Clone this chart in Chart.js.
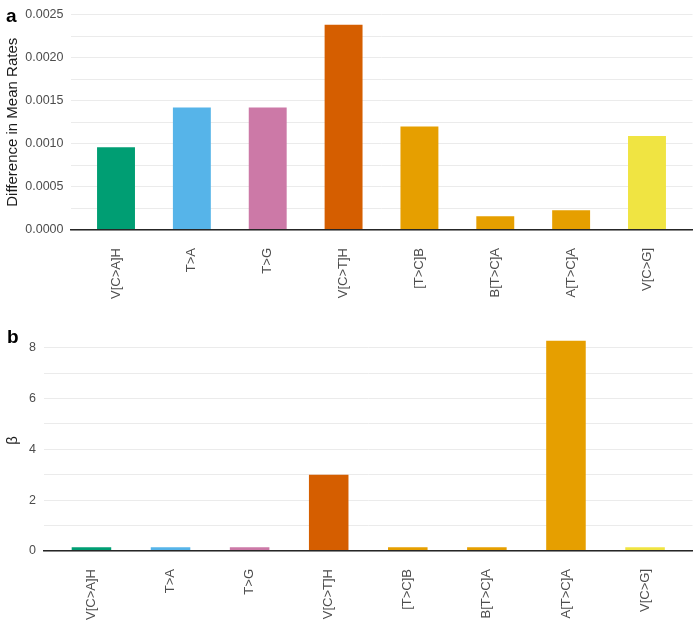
<!DOCTYPE html>
<html>
<head>
<meta charset="utf-8">
<script src="https://cdn.jsdelivr.net/npm/chart.js@4.4.1/dist/chart.umd.min.js"></script>
<style>
  html, body { margin: 0; padding: 0; background: #fff; }
  #wrap { position: relative; width: 700px; height: 623px; }
  canvas { position: absolute; left: 0; }
  #chartA { top: 0; }
  #chartB { top: 311px; }
</style>
</head>
<body>
<div id="wrap">
  <canvas id="chartA" width="700" height="312"></canvas>
  <canvas id="chartB" width="700" height="312"></canvas>
</div>
<script>
const categories = ['V[C>A]H', 'T>A', 'T>G', 'V[C>T]H', '[T>C]B', 'B[T>C]A', 'A[T>C]A', 'V[C>G]'];
const rateDiff = [0.00096, 0.00142, 0.00142, 0.00238, 0.00120, 0.00016, 0.00023, 0.00109];
const betaValues = [0.15, 0.15, 0.15, 3.0, 0.15, 0.15, 8.28, 0.15];
const rateTicks = [0, 0.0005, 0.001, 0.0015, 0.002, 0.0025];
const rateTickLabels = ['0.0000', '0.0005', '0.0010', '0.0015', '0.0020', '0.0025'];
const betaTicks = [0, 2, 4, 6, 8];
const betaTickLabels = ['0', '2', '4', '6', '8'];
const barColors = ['#009E73', '#56B4E9', '#CC79A7', '#D55E00', '#E69F00', '#E69F00', '#E69F00', '#F0E442'];

Chart.defaults.font.family = '"Liberation Sans", Arial, sans-serif';

// draws the bold panel letter in the corner
const panelTag = {
    id: 'panelTag',
    afterDraw(chart, args, o) {
        const c = chart.ctx;
        c.save();
        c.font = 'bold 19px "Liberation Sans", Arial, sans-serif';
        c.fillStyle = '#000';
        c.textBaseline = 'alphabetic';
        c.fillText(o.text, o.x, o.y);
        c.restore();
    }
};

function makeChart(id, cfg) {
    const ctx = document.getElementById(id).getContext('2d');

    // major ticks plus a minor gridline half way between each pair
    const gridVals = [];
    cfg.ticks.forEach((v, i) => {
        gridVals.push(v);
        if (i < cfg.ticks.length - 1) gridVals.push((v + cfg.ticks[i + 1]) / 2);
    });

    return new Chart(ctx, {
        type: 'bar',
        data: {
            datasets: [{
                data: cfg.values.map((v, i) => ({ x: i + 1, y: v })),
                backgroundColor: barColors,
                borderWidth: 0,
                barPercentage: 0.5,
                categoryPercentage: 1
            }]
        },
        plugins: [panelTag],
        options: {
            responsive: false,
            animation: false,
            layout: { padding: { top: cfg.top, right: 7.5, left: 0, bottom: 0 } },
            plugins: {
                legend: { display: false },
                tooltip: { enabled: false },
                panelTag: cfg.tag
            },
            scales: {
                x: {
                    type: 'linear',
                    offset: false,
                    min: 0.4,
                    max: 8.6,
                    afterBuildTicks: s => { s.ticks = categories.map((c, i) => ({ value: i + 1 })); },
                    afterFit: s => { s.height = cfg.xHeight; },
                    grid: { display: false, drawTicks: false, offset: false },
                    border: { display: true, color: '#262626', width: 1.5, z: 1 },
                    ticks: {
                        autoSkip: false,
                        minRotation: 90,
                        maxRotation: 90,
                        padding: 18,
                        color: '#4d4d4d',
                        font: { size: 13 },
                        callback: v => categories[Math.round(v) - 1]
                    }
                },
                y: {
                    min: 0,
                    max: cfg.max,
                    afterBuildTicks: s => { s.ticks = gridVals.map(v => ({ value: v })); },
                    afterFit: s => { s.width = cfg.yWidth; },
                    grid: { color: '#ebebeb', lineWidth: 1, drawTicks: false },
                    border: { display: false },
                    ticks: {
                        padding: cfg.tickPad,
                        color: '#4d4d4d',
                        font: { size: 12.5 },
                        callback: v => {
                            const k = cfg.ticks.findIndex(t => Math.abs(t - v) < 1e-9);
                            return k >= 0 ? cfg.labels[k] : '';
                        }
                    },
                    title: {
                        display: true,
                        text: cfg.title,
                        color: '#1a1a1a',
                        font: { size: 15 },
                        padding: { top: 4, bottom: 0 }
                    }
                }
            }
        }
    });
}

makeChart('chartA', {
    values: rateDiff,
    ticks: rateTicks,
    labels: rateTickLabels,
    max: 0.0025,
    top: 9,
    xHeight: 82,
    yWidth: 70.5,
    tickPad: 7,
    title: 'Difference in Mean Rates',
    tag: { text: 'a', x: 6, y: 22 }
});

makeChart('chartB', {
    values: betaValues,
    ticks: betaTicks,
    labels: betaTickLabels,
    max: 8.7,
    top: 19,
    xHeight: 72,
    yWidth: 44,
    tickPad: 8,
    title: 'β',
    tag: { text: 'b', x: 7, y: 32 }
});
</script>
</body>
</html>
